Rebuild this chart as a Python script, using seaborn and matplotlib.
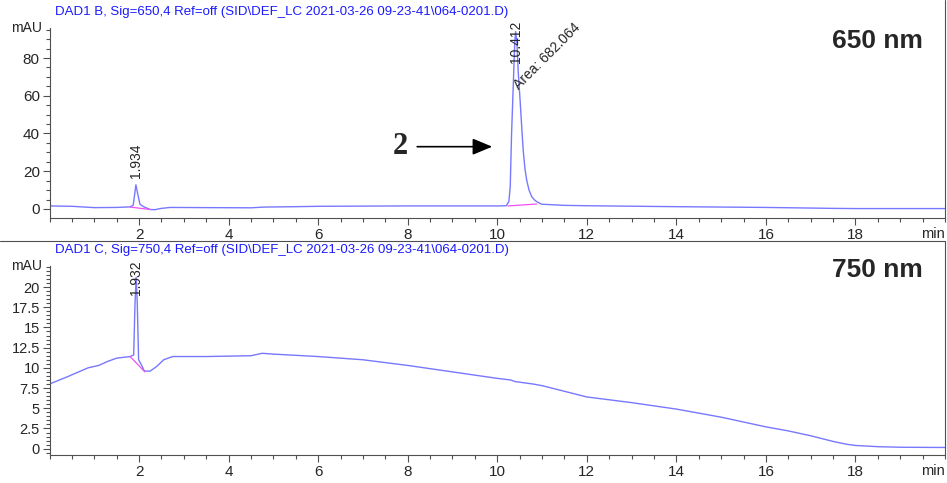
import pandas as pd
import matplotlib
matplotlib.use('Agg')
import matplotlib.pyplot as plt
from matplotlib.lines import Line2D
from matplotlib.ticker import MultipleLocator
import seaborn as sns

# 650 nm trace (DAD1 B)
t_650 = [0.0, 0.5, 1.0, 1.5, 1.8, 1.87, 1.93, 1.97, 2.02, 2.1, 2.25, 2.35, 2.5, 2.7,
         3.5, 4.5, 4.8, 5.5, 6.0, 8.0, 10.0, 10.2, 10.26, 10.29, 10.32, 10.36, 10.39,
         10.41, 10.44, 10.47, 10.51, 10.55, 10.58, 10.62, 10.66, 10.71, 10.77, 10.83,
         10.88, 10.95, 11.0, 11.5, 12.0, 14.0, 16.0, 17.5, 18.0, 20.0]
mau_650 = [1.6, 1.4, 0.7, 0.8, 1.1, 2.0, 12.8, 8.0, 2.5, 1.2, -0.3, -0.4, 0.3, 0.8,
           0.7, 0.6, 1.0, 1.2, 1.4, 1.6, 1.6, 1.7, 4.0, 11.8, 40.0, 67.0, 88.0,
           94.0, 88.0, 72.0, 57.7, 42.0, 31.0, 21.0, 15.0, 10.0, 6.5, 4.8,
           3.9, 3.0, 2.5, 1.9, 1.7, 1.2, 0.8, 0.3, 0.2, 0.2]

# 750 nm trace (DAD1 C)
t_750 = [0.0, 0.4, 0.86, 1.1, 1.3, 1.5, 1.8, 1.88, 1.91, 1.935, 1.96, 1.99, 2.05,
         2.12, 2.25, 2.4, 2.55, 2.75, 3.5, 4.5, 4.75, 5.0, 6.0, 7.0, 8.0, 9.0, 10.0,
         10.3, 10.4, 10.8, 11.0, 12.0, 13.0, 14.0, 15.0, 16.0, 16.5, 17.0, 17.5, 17.8,
         18.0, 18.5, 19.0, 20.0]
mau_750 = [8.0, 8.9, 10.0, 10.3, 10.8, 11.2, 11.4, 11.6, 18.0, 21.2, 18.0, 11.0, 10.4,
           9.6, 9.6, 10.2, 11.0, 11.4, 11.4, 11.5, 11.8, 11.7, 11.4, 11.0, 10.3, 9.5, 8.7,
           8.5, 8.3, 8.0, 7.8, 6.4, 5.7, 4.9, 3.9, 2.7, 2.2, 1.6, 0.9, 0.55,
           0.4, 0.25, 0.18, 0.15]

# integration baselines (start, end)
base_650 = [((1.80, 1.0), (2.25, -0.3)), ((10.24, 1.6), (10.88, 2.6))]
base_750 = [((1.80, 11.4), (2.13, 9.5))]

peaks_650 = [(1.934, 16.4, '1.934'), (10.412, 77.4, '10.412')]
peaks_750 = [(1.932, 19.0, '1.932')]

yticks_650 = [0, 20, 40, 60, 80]
yticks_750 = [0, 2.5, 5, 7.5, 10, 12.5, 15, 17.5, 20]
xticks = [2, 4, 6, 8, 10, 12, 14, 16, 18]

titles = ['DAD1 B, Sig=650,4 Ref=off (SID\\DEF_LC 2021-03-26 09-23-41\\064-0201.D)',
          'DAD1 C, Sig=750,4 Ref=off (SID\\DEF_LC 2021-03-26 09-23-41\\064-0201.D)']
wavelengths = ['650 nm', '750 nm']

sns.set_style('ticks')
plt.rcParams['font.family'] = ['Liberation Sans', 'DejaVu Sans']

W, H = 947, 483
fig = plt.figure(figsize=(W / 100, H / 100), dpi=100)

def fx(px):
    return px / W

def fy(py):
    return 1 - py / H

trace_col = '#7878ff'
base_col = '#f050f0'
spine_col = '#505050'

ax1 = fig.add_axes([fx(49.5), fy(218), fx(945 - 49.5), fy(28) - fy(218)])
ax2 = fig.add_axes([fx(49.5), fy(455), fx(945 - 49.5), fy(266) - fy(455)])

df1 = pd.DataFrame({'t': t_650, 'mAU': mau_650})
df2 = pd.DataFrame({'t': t_750, 'mAU': mau_750})
sns.lineplot(data=df1, x='t', y='mAU', ax=ax1, color=trace_col, lw=1.0)
sns.lineplot(data=df2, x='t', y='mAU', ax=ax2, color=trace_col, lw=1.0)

for ax, bases in [(ax1, base_650), (ax2, base_750)]:
    for (x0, y0), (x1, y1) in bases:
        ax.plot([x0, x1], [y0, y1], color=base_col, lw=0.9)

ax1.set_ylim(-4.8, 95.9)
ax2.set_ylim(-0.78, 22.6)
ax1.set_yticks(yticks_650)
ax1.yaxis.set_minor_locator(MultipleLocator(5))
ax2.set_yticks(yticks_750)
ax2.set_yticklabels([f'{v:g}' for v in yticks_750])
ax2.yaxis.set_minor_locator(MultipleLocator(0.5))

for ax in (ax1, ax2):
    ax.set_xlim(0, 20)
    ax.set_xticks(xticks)
    ax.xaxis.set_minor_locator(MultipleLocator(0.5))
    ax.set_xlabel('')
    ax.set_ylabel('')
    for s in ('top', 'right'):
        ax.spines[s].set_visible(False)
    for s in ('left', 'bottom'):
        ax.spines[s].set_color(spine_col)
        ax.spines[s].set_linewidth(0.8)
    ax.tick_params(which='major', length=5, width=0.8, color=spine_col,
                   labelsize=11, pad=2)
    ax.tick_params(which='minor', length=3, width=0.8, color=spine_col)
    ax.patch.set_alpha(0)
    ax.text(-0.008, 1.0, 'mAU', transform=ax.transAxes, ha='right', va='center',
            fontsize=10)
    ax.text(1.0, -0.045, 'min', transform=ax.transAxes, ha='right', va='top',
            fontsize=10.5)

ax2.tick_params(axis='y', which='major', labelsize=10.5)

for ax, peaks in [(ax1, peaks_650), (ax2, peaks_750)]:
    for x, y, lab in peaks:
        ax.text(x, y, lab, rotation=90, ha='center', va='bottom', fontsize=10)

ax1.text(10.53, 62.0, 'Area: 682.064', rotation=45, rotation_mode='anchor',
         ha='left', va='bottom', fontsize=10)

# arrow pointing at peak 2
ax1.annotate('', xy=(9.95, 33.0), xytext=(8.15, 33.0),
             arrowprops=dict(arrowstyle='-|>,head_length=1.2,head_width=0.5',
                             color='black', lw=1.2))
ax1.text(8.0, 33.0, '2', ha='right', va='center', fontsize=22, fontweight='bold',
         family=['Liberation Serif', 'DejaVu Serif'])

# titles and wavelength tags
fig.text(fx(55), fy(12), titles[0], color='#1a1aff', fontsize=9.5, va='center')
fig.text(fx(55), fy(250), titles[1], color='#1a1aff', fontsize=9.5, va='center')
fig.text(fx(923), fy(41), wavelengths[0], ha='right', va='center', fontsize=19,
         fontweight='bold')
fig.text(fx(923), fy(270), wavelengths[1], ha='right', va='center', fontsize=19,
         fontweight='bold')

# panel frames
fig.add_artist(Line2D([fx(945), fx(945)], [fy(0), fy(218)], color=spine_col, lw=0.8))
fig.add_artist(Line2D([fx(945), fx(945)], [fy(241), fy(455)], color=spine_col, lw=0.8))
fig.add_artist(Line2D([0, fx(945)], [fy(241), fy(241)], color=spine_col, lw=0.8))

fig.savefig('out.png', dpi=100)
